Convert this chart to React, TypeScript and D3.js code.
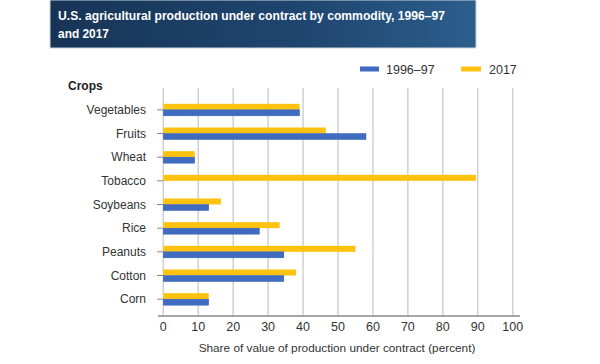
import React from "react";
import * as d3 from "d3";

const categories = ["Vegetables", "Fruits", "Wheat", "Tobacco", "Soybeans", "Rice", "Peanuts", "Cotton", "Corn"];
const values1996: (number | null)[] = [39, 58, 9, null, 13, 27.5, 34.5, 34.5, 13];
const values2017: number[] = [39, 46.5, 9, 89.5, 16.5, 33.3, 55, 38, 13];
const xTicks = [0, 10, 20, 30, 40, 50, 60, 70, 80, 90, 100];
const seriesNames = ["1996–97", "2017"];

const W = 600, H = 364;
const BLUE = "#3f6cc0";
const YELLOW = "#ffc20e";

export default function App() {
  const x = d3.scaleLinear().domain([0, 100]).range([163.3, 512.7]);
  const y = d3.scaleBand().domain(categories).range([98, 311]).paddingInner(0).paddingOuter(0);
  const barH = 6;
  const font = "'Liberation Sans', Arial, sans-serif";
  return (
    <svg width={W} height={H} style={{ position: "absolute", left: 0, top: 0, background: "#fff" }} fontFamily={font}>
      <defs>
        <linearGradient id="tg" x1="0" x2="1" y1="0" y2="0">
          <stop offset="0" stopColor="#173456" />
          <stop offset="0.6" stopColor="#1f4670" />
          <stop offset="1" stopColor="#2c5e8c" />
        </linearGradient>
      </defs>
      <rect x={50} y={0} width={426} height={48} fill="url(#tg)" stroke="#c8d4e0" strokeWidth={1} />
      <text x={58} y={20} fill="#fff" fontWeight="bold" fontSize={13} textLength={387} lengthAdjust="spacingAndGlyphs">
        U.S. agricultural production under contract by commodity, 1996–97
      </text>
      <text x={58} y={38} fill="#fff" fontWeight="bold" fontSize={13} textLength={51} lengthAdjust="spacingAndGlyphs">and 2017</text>

      {/* legend */}
      <rect x={360} y={66.5} width={19} height={5} fill={BLUE} />
      <text x={386} y={73.5} fontSize={12.5} fill="#333">{seriesNames[0]}</text>
      <rect x={461} y={66.5} width={20} height={5} fill={YELLOW} />
      <text x={489} y={73.5} fontSize={12.5} fill="#333">{seriesNames[1]}</text>

      <text x={68} y={90} fontSize={12} fontWeight="bold" fill="#222">Crops</text>

      {/* gridlines */}
      {xTicks.map((t) => (
        <line key={t} x1={x(t)} x2={x(t)} y1={88} y2={316} stroke="#d0d0d0" strokeWidth={1.5} />
      ))}

      {/* bars */}
      {categories.map((c, i) => {
        const cy = (y(c) as number) + y.bandwidth() / 2;
        const v96 = values1996[i];
        return (
          <g key={c}>
            <rect x={x(0)} y={cy - barH} width={x(values2017[i]) - x(0)} height={barH} fill={YELLOW} />
            {v96 != null && (
              <rect x={x(0)} y={cy} width={x(v96) - x(0)} height={barH} fill={BLUE} stroke="#3560b0" strokeWidth={0.5} />
            )}
            <line x1={157} x2={163} y1={cy} y2={cy} stroke="#888" strokeWidth={1} />
            <text x={146} y={cy} dy="0.35em" textAnchor="end" fontSize={12} fill="#333">{c}</text>
          </g>
        );
      })}

      {/* x axis */}
      <line x1={158} x2={520} y1={316} y2={316} stroke="#888" strokeWidth={1.5} />
      {xTicks.map((t) => (
        <text key={t} x={x(t)} y={330.5} textAnchor="middle" fontSize={12.5} fill="#333">{t}</text>
      ))}
      <text x={337} y={352} textAnchor="middle" fontSize={11.8} fill="#333">
        Share of value of production under contract (percent)
      </text>
    </svg>
  );
}
